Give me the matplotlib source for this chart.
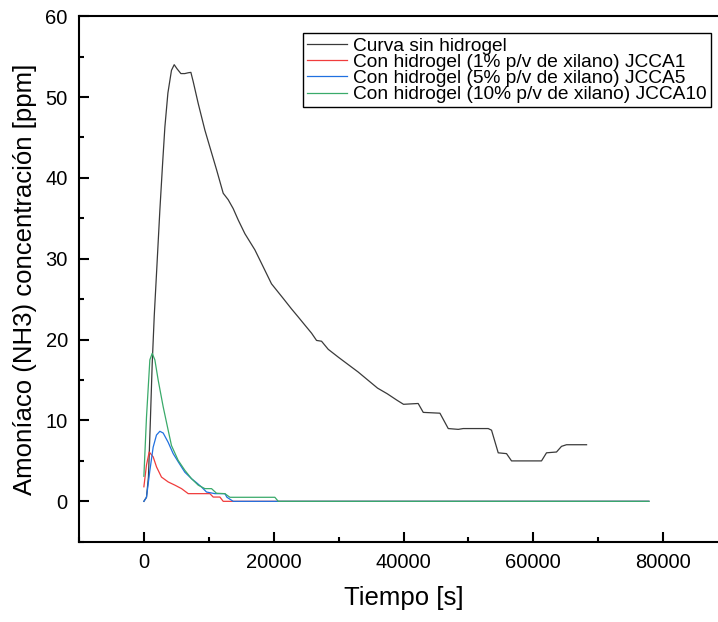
import matplotlib
matplotlib.use("Agg")
import matplotlib.pyplot as plt
from matplotlib.ticker import MultipleLocator

plt.rcParams["font.family"] = ["Liberation Sans", "DejaVu Sans"]

# Curva sin hidrogel
t_sin = [0, 400, 700, 1000, 1280, 1600, 2000, 2460, 2900, 3235, 3700, 4250, 4670, 5100, 5700,
         6300, 6830, 7240, 7600, 8370, 9400, 10170, 11200, 12220, 12990, 13760, 14530, 15560,
         17100, 18200, 19660, 21460, 22740, 23780, 24800, 25830, 26600, 27370, 28400, 30000,
         31500, 33000, 34500, 36000, 37500, 39000, 40000, 42260, 43040, 45610, 46890, 48430,
         49200, 53050, 53560, 54590, 55870, 56640, 61260, 62030, 63570, 64340, 65110, 68200]
c_sin = [0, 0.5, 3, 10, 17, 23, 29, 36, 42, 46.3, 50.5, 53.3, 54.0, 53.5, 52.9,
         52.9, 53.0, 53.05, 51.9, 49.2, 45.9, 43.8, 41.0, 38.1, 37.3, 36.2, 34.8, 33.1,
         31.1, 29.3, 26.9, 25.1, 23.8, 22.8, 21.8, 20.8, 19.9, 19.8, 18.8, 17.8,
         16.9, 16.0, 15.0, 14.0, 13.3, 12.5, 12.0, 12.1, 11.0, 10.9, 9.0, 8.9,
         9.0, 9.0, 8.8, 6.0, 5.9, 5.0, 5.0, 6.0, 6.1, 6.8, 7.0, 7.0]

# JCCA1
t_1 = [0, 400, 820, 1430, 1950, 2710, 3740, 4780, 5800, 6830, 10170, 10680, 11710, 12220, 77800]
c_1 = [1.8, 4.5, 6.1, 5.5, 4.25, 3.0, 2.4, 2.0, 1.57, 0.95, 0.95, 0.53, 0.53, 0, 0]

# JCCA5
t_5 = [0, 400, 920, 1430, 1940, 2460, 2970, 3740, 4510, 5280, 6310, 7340, 8110, 8880, 9650,
       10940, 12480, 12800, 13760, 77800]
c_5 = [0, 0.5, 3.8, 6.7, 8.2, 8.66, 8.45, 7.3, 5.9, 4.9, 3.6, 2.8, 2.3, 1.77, 1.15,
       0.95, 0.95, 0.5, 0, 0]

# JCCA10
t_10 = [0, 400, 920, 1280, 1690, 2200, 2970, 3740, 4250, 5280, 6310, 7340, 8370, 9400, 10420,
        11190, 12480, 13250, 20180, 20700, 77800]
c_10 = [3.1, 10.4, 17.5, 18.3, 17.5, 15.0, 11.7, 8.8, 6.9, 5.07, 3.84, 2.8, 2.0, 1.57, 1.57,
        1.0, 0.95, 0.5, 0.5, 0, 0]

fig = plt.figure(figsize=(7.18, 6.22), dpi=100)
ax = fig.add_axes([0.110, 0.129, 0.904, 0.845])

lw = 0.9
ax.plot(t_sin, c_sin, color="#3a3a3a", lw=lw, label="Curva sin hidrogel")
ax.plot(t_1, c_1, color="#f03c3c", lw=lw, label="Con hidrogel (1% p/v de xilano) JCCA1")
ax.plot(t_5, c_5, color="#2070e0", lw=lw, label="Con hidrogel (5% p/v de xilano) JCCA5")
ax.plot(t_10, c_10, color="#3aaa6a", lw=lw, label="Con hidrogel (10% p/v de xilano) JCCA10")

ax.set_xlim(-10000, 90000)
ax.set_ylim(-5, 60)
ax.xaxis.set_major_locator(MultipleLocator(20000))
ax.xaxis.set_minor_locator(MultipleLocator(10000))
ax.yaxis.set_major_locator(MultipleLocator(10))
ax.yaxis.set_minor_locator(MultipleLocator(5))

for s in ax.spines.values():
    s.set_linewidth(1.5)
ax.tick_params(which="both", direction="in", width=1.5, labelsize=14.5, pad=8)
ax.tick_params(which="major", length=7)
ax.tick_params(which="minor", length=3.5)

ax.set_xlabel("Tiempo [s]", fontsize=18.5, labelpad=10)
ax.set_ylabel("Amoníaco (NH3) concentración [ppm]", fontsize=18.5, labelpad=6)

leg = ax.legend(loc="upper left", bbox_to_anchor=(0.4216, 0.9465),
                bbox_transform=fig.transFigure, fontsize=13.8, frameon=True,
                fancybox=False, framealpha=1, edgecolor="black", borderpad=0.2,
                borderaxespad=0, handlelength=2.1, handletextpad=0.33,
                labelspacing=-0.06)
leg.get_frame().set_linewidth(1.0)

fig.savefig("out.png", dpi=100)
